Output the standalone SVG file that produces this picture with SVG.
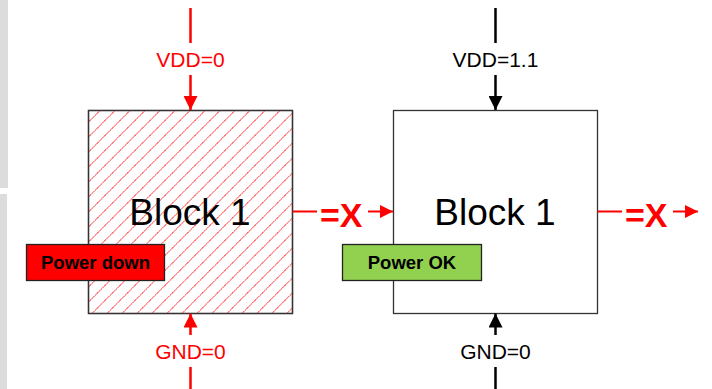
<svg xmlns="http://www.w3.org/2000/svg" width="712" height="389" viewBox="0 0 712 389">
<style>
.lbl{font-family:"Liberation Sans",Arial,sans-serif;font-size:21px;text-anchor:middle}
.blk{font-family:"Liberation Sans",Arial,sans-serif;font-size:37px;text-anchor:middle;fill:#000}
.eqx{font-family:"Liberation Sans",Arial,sans-serif;font-size:34px;font-weight:bold;fill:#ff0000}
.tag{font-family:"Liberation Sans",Arial,sans-serif;font-size:18.5px;font-weight:bold;text-anchor:middle;fill:#000}
.box{stroke:#333;stroke-width:1.3}
.red{stroke:#ff0000;stroke-width:2.5;fill:none}
.blk-l{stroke:#000;stroke-width:2.5;fill:none}
.redthin{stroke:#ff0000;stroke-width:2;fill:none}
</style>
<defs>
<pattern id="hatch" patternUnits="userSpaceOnUse" width="10.6" height="10.6" patternTransform="rotate(45)">
<line x1="0" y1="0" x2="0" y2="10.6" stroke="#ff0000" stroke-width="1.6" stroke-dasharray="1.6 0.7"/>
</pattern>
<marker id="ar" viewBox="0 0 10 10" refX="10" refY="5" markerWidth="5.6" markerHeight="5.6" markerUnits="strokeWidth" orient="auto"><path d="M0,0 L10,5 L0,10 z" fill="#ff0000"/></marker>
<marker id="ab" viewBox="0 0 10 10" refX="10" refY="5" markerWidth="5.6" markerHeight="5.6" markerUnits="strokeWidth" orient="auto"><path d="M0,0 L10,5 L0,10 z" fill="#000"/></marker>
<marker id="ar2" viewBox="0 0 10 10" refX="10" refY="5" markerWidth="6.5" markerHeight="6.5" markerUnits="strokeWidth" orient="auto"><path d="M0,0 L10,5 L0,10 z" fill="#ff0000"/></marker>
</defs>
<rect x="0" y="0" width="8" height="188" fill="#dcdcdc"/>
<rect x="0" y="194" width="7" height="195" fill="#dcdcdc"/>

<g id="block-left">
<rect x="88.5" y="110.5" width="204" height="203" fill="#fff" class="box"/>
<rect x="88.5" y="110.5" width="204" height="203" fill="url(#hatch)" class="box"/>
<text class="blk" x="190" y="225">Block 1</text>
</g>
<g id="tag-powerdown">
<rect x="26.5" y="244.5" width="138" height="36" fill="#ff0000" stroke="#222" stroke-width="1.3"/>
<text class="tag" x="95.5" y="269">Power down</text>
</g>

<g id="block-right">
<rect x="393.5" y="110.5" width="204" height="203" fill="#fff" class="box"/>
<text class="blk" x="495" y="225">Block 1</text>
</g>
<g id="tag-powerok">
<rect x="342.5" y="244.5" width="139" height="36" fill="#92d050" stroke="#222" stroke-width="1.3"/>
<text class="tag" x="412" y="269">Power OK</text>
</g>

<g id="connectors">
<line class="red" x1="190.5" y1="8" x2="190.5" y2="43"/>
<line class="red" x1="190.5" y1="75" x2="190.5" y2="110" marker-end="url(#ar)"/>
<text class="lbl" x="190.5" y="67" fill="#ff0000">VDD=0</text>
<line class="red" x1="190.5" y1="335" x2="190.5" y2="313.5" marker-end="url(#ar)"/>
<line class="red" x1="190.5" y1="367" x2="190.5" y2="389"/>
<text class="lbl" x="190.5" y="358.5" fill="#ff0000">GND=0</text>
<line class="blk-l" x1="495.5" y1="8" x2="495.5" y2="43"/>
<line class="blk-l" x1="495.5" y1="75" x2="495.5" y2="110" marker-end="url(#ab)"/>
<text class="lbl" x="495.5" y="67" fill="#000">VDD=1.1</text>
<line class="blk-l" x1="495.5" y1="335" x2="495.5" y2="313.5" marker-end="url(#ab)"/>
<line class="blk-l" x1="495.5" y1="367" x2="495.5" y2="389"/>
<text class="lbl" x="495.5" y="359" fill="#000">GND=0</text>
<line class="redthin" x1="292.5" y1="211.5" x2="317" y2="211.5"/>
<text class="eqx" x="320" y="227">=X</text>
<line class="redthin" x1="368" y1="211.5" x2="393" y2="211.5" marker-end="url(#ar2)"/>
<line class="redthin" x1="597.5" y1="211.5" x2="622" y2="211.5"/>
<text class="eqx" x="625" y="227">=X</text>
<line class="redthin" x1="673" y1="211.5" x2="698" y2="211.5" marker-end="url(#ar2)"/>
</g>
</svg>
